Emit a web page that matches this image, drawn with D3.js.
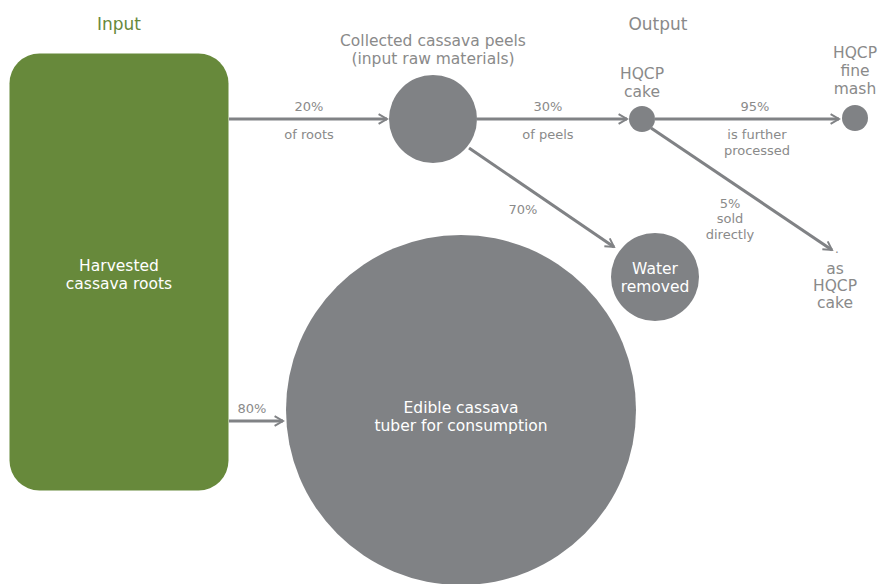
<!DOCTYPE html>
<html>
<head>
<meta charset="utf-8">
<script src="https://cdn.jsdelivr.net/npm/d3@7"></script>
<style>
  body { margin: 0; background: #fff; }
  text { font-family: "DejaVu Sans", Roboto, sans-serif; }
</style>
</head>
<body>
<svg width="878" height="584"></svg>
<script>
// flow data
var nodeNames = ["Harvested cassava roots", "Collected cassava peels", "HQCP cake", "HQCP fine mash", "Water removed", "Edible cassava tuber for consumption", "as HQCP cake"];
var flowSource = ["Harvested cassava roots", "Collected cassava peels", "HQCP cake", "Collected cassava peels", "HQCP cake", "Harvested cassava roots"];
var flowTarget = ["Collected cassava peels", "HQCP cake", "HQCP fine mash", "Water removed", "as HQCP cake", "Edible cassava tuber for consumption"];
var flowPercent = ["20%", "30%", "95%", "70%", "5%", "80%"];
var flowNote = [["of roots"], ["of peels"], ["is further", "processed"], [], ["sold", "directly"], []];
var columnTitles = ["Input", "Output"];

var grey = "#808285", textGrey = "#8a8a8a", green = "#67893b";
var svg = d3.select("svg");

// layout (pixels)
var layout = {
  "Harvested cassava roots": {x: 119, y: 272, w: 219, h: 437},
  "Collected cassava peels": {x: 433, y: 119, r: 44},
  "HQCP cake": {x: 642, y: 119, r: 13},
  "HQCP fine mash": {x: 855, y: 118, r: 13},
  "Water removed": {x: 655, y: 277, r: 44},
  "Edible cassava tuber for consumption": {x: 461, y: 410, r: 175},
  "as HQCP cake": {x: 836, y: 252, r: 0}
};

svg.append("defs").append("marker")
  .attr("id", "arr").attr("viewBox", "0 0 10 10")
  .attr("refX", 8).attr("refY", 5)
  .attr("markerWidth", 4).attr("markerHeight", 4)
  .attr("markerUnits", "strokeWidth")
  .attr("orient", "auto")
  .append("path").attr("d", "M1,1 L8,5 L1,9")
  .attr("fill", "none").attr("stroke", grey).attr("stroke-width", 1.6);

// titles
svg.selectAll("text.col").data(columnTitles).enter().append("text")
  .attr("class", "col")
  .attr("x", function(d, i) { return i === 0 ? 119 : 658; })
  .attr("y", 30).attr("text-anchor", "middle")
  .attr("font-size", "17px")
  .attr("fill", function(d, i) { return i === 0 ? green : textGrey; })
  .text(function(d) { return d; });

// root box
var root = layout[nodeNames[0]];
svg.append("rect")
  .attr("x", root.x - root.w / 2).attr("y", root.y - root.h / 2)
  .attr("width", root.w).attr("height", root.h)
  .attr("rx", 30).attr("fill", green);

// links, ends trimmed to the node edges
var edges = [
  {x1: 229, y1: 119, x2: 387, y2: 119},
  {x1: 477, y1: 119, x2: 627, y2: 119},
  {x1: 655, y1: 119, x2: 839, y2: 119},
  {x1: 469, y1: 148, x2: 614, y2: 247},
  {x1: 651, y1: 128, x2: 832, y2: 250},
  {x1: 229, y1: 421, x2: 283, y2: 421}
];
svg.selectAll("line.flow").data(edges).enter().append("line")
  .attr("class", "flow")
  .attr("x1", function(d) { return d.x1; }).attr("y1", function(d) { return d.y1; })
  .attr("x2", function(d) { return d.x2; }).attr("y2", function(d) { return d.y2; })
  .attr("stroke", grey).attr("stroke-width", 3)
  .attr("marker-end", "url(#arr)");

// circles
var circ = nodeNames.slice(1).filter(function(n) { return layout[n].r > 0; });
svg.selectAll("circle.node").data(circ).enter().append("circle")
  .attr("class", "node")
  .attr("cx", function(d) { return layout[d].x; })
  .attr("cy", function(d) { return layout[d].y; })
  .attr("r", function(d) { return layout[d].r; })
  .attr("fill", grey);

function lines(tx, ty, arr, size, fill, lh) {
  arr.forEach(function(t, i) {
    svg.append("text").attr("x", tx).attr("y", ty + i * lh)
      .attr("text-anchor", "middle").attr("font-size", size)
      .attr("fill", fill).text(t);
  });
}

// node labels
lines(119, 271, ["Harvested", "cassava roots"], "15.5px", "#fff", 18);
lines(433, 46, ["Collected cassava peels", "(input raw materials)"], "15.5px", textGrey, 18);
lines(642, 79, ["HQCP", "cake"], "15.5px", textGrey, 18);
lines(855, 58, ["HQCP", "fine", "mash"], "15.5px", textGrey, 18);
lines(655, 274, ["Water", "removed"], "15.5px", "#fff", 18);
lines(461, 413, ["Edible cassava", "tuber for consumption"], "15.5px", "#fff", 18);
lines(835, 274, ["as", "HQCP", "cake"], "15.5px", textGrey, 17);
svg.append("text").attr("x", 837).attr("y", 253).attr("text-anchor", "middle")
  .attr("font-size", "12px").attr("fill", textGrey).text(".");

// flow labels
var pctPos = [[309, 111], [548, 111], [755, 111], [523, 214], [730, 208], [252, 413]];
var notePos = [[309, 139], [548, 139], [757, 139], null, [730, 223], null];
flowPercent.forEach(function(p, i) {
  lines(pctPos[i][0], pctPos[i][1], [p], "13px", textGrey, 16);
  if (notePos[i]) lines(notePos[i][0], notePos[i][1], flowNote[i], "13px", textGrey, 16);
});
</script>
</body>
</html>
